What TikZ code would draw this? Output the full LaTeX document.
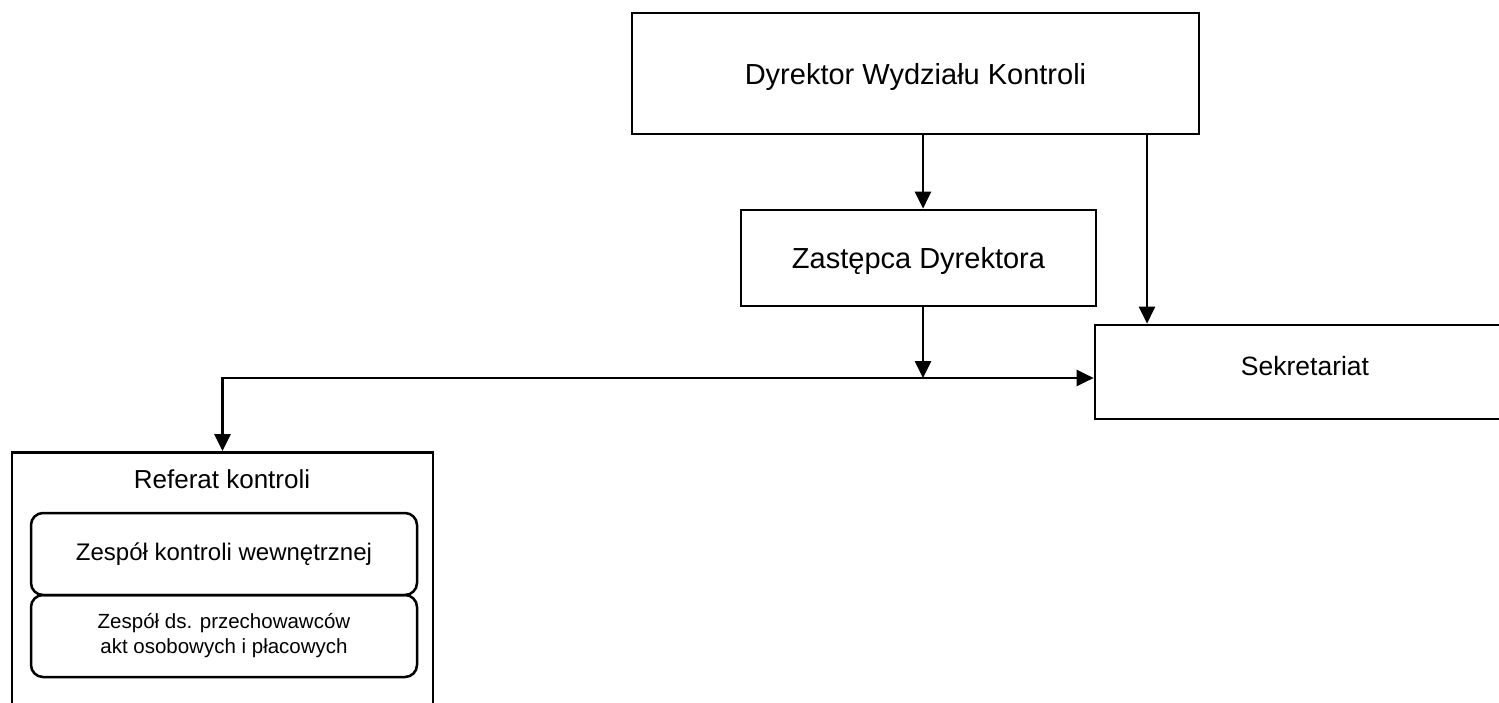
\documentclass[tikz,border=0pt]{standalone}
\usepackage{fontspec}
\setmainfont{Liberation Sans}
\usetikzlibrary{arrows.meta}

\begin{document}
\begin{tikzpicture}[
        x = 1pt, y = -1pt,
        box/.style = {draw, line width = 2.7pt, inner sep = 0pt, text depth = 0pt},
        team/.style = {draw, line width = 2.5pt, rounded corners = 12pt, inner sep = 0pt,
                       minimum width = 386pt, minimum height = 82pt, align = center},
        arr/.style = {draw, line width = 2.7pt, -{Triangle[length = 17pt, width = 16pt]}},
        both/.style = {arr, {Triangle[length = 17pt, width = 16pt]}-{Triangle[length = 17pt, width = 16pt]}},
    ]
    \clip (0, 0) rectangle (1499, 703);

    \node (DWK) at (915.5, 73.5) [box, minimum width = 567pt, minimum height = 121pt,
        font = \fontsize{29}{34}\selectfont] {Dyrektor Wydziału Kontroli};
    \node (ZD) at (918.5, 258) [box, minimum width = 355pt, minimum height = 96pt,
        font = \fontsize{29}{34}\selectfont] {Zastępca Dyrektora};
    \node (SEK) at (1305, 372) [box, minimum width = 420pt, minimum height = 94pt] {};
    \node (SEKt) at (1305, 366) [font = \fontsize{26.5}{31}\selectfont] {Sekretariat};

    \node (RK) at (222.5, 451) [box, anchor = north, minimum width = 421pt, minimum height = 300pt] {};
    \node (RKt) at (222, 479) [font = \fontsize{26}{31}\selectfont] {Referat kontroli};
    \node (ZKW) at (224, 554) [team, font = \fontsize{24}{28}\selectfont] {Zespół kontroli wewnętrznej};
    \node (ZPA) at (224, 636) [team, font = \fontsize{20.5}{25}\selectfont]
        {Zespół ds. przechowawców\\akt osobowych i płacowych};

    \coordinate (L) at (222.5, 378);
    \coordinate (J) at (923, 378);
    \coordinate (R) at (1147, 0);

    \path[arr] (DWK.south -| J) -- (ZD.north -| J);
    \path[arr] (DWK.south -| R) -- (SEK.north -| R);
    \path[arr] (ZD.south -| J) -- (J);
    \path[both] (RK.north) -- (L) -- (SEK.west |- L);
\end{tikzpicture}
\end{document}
